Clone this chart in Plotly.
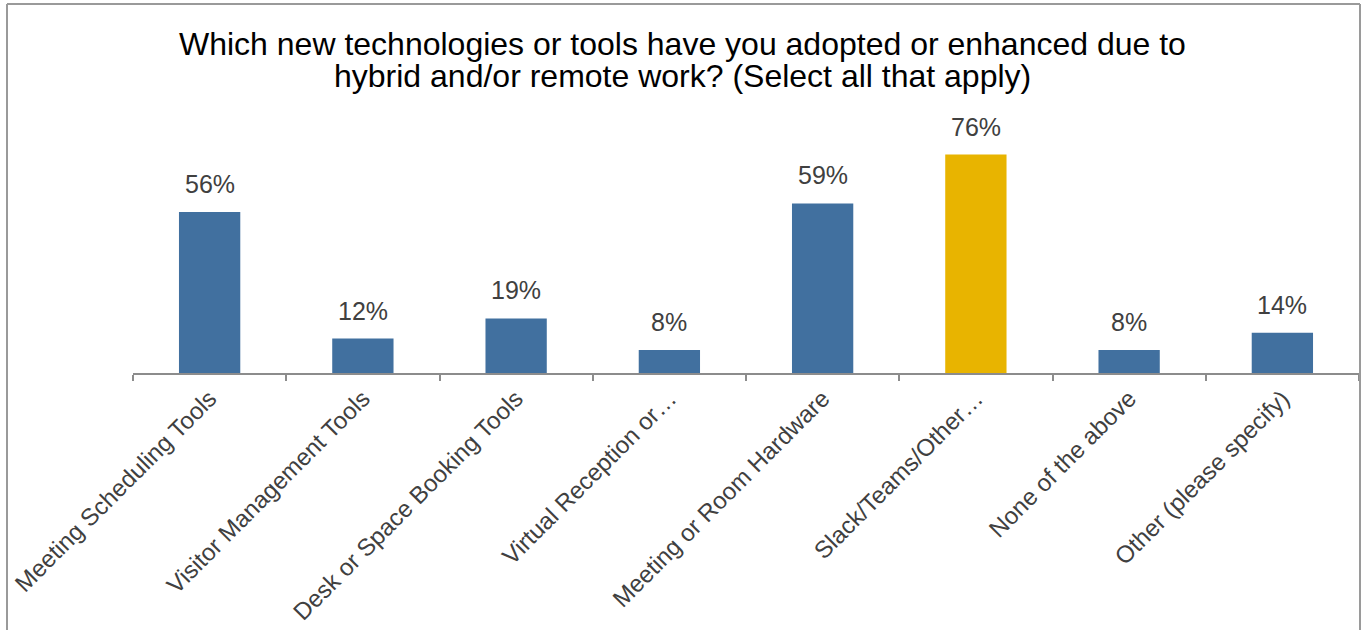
import plotly.graph_objects as go

categories = [
    "Meeting Scheduling Tools",
    "Visitor Management Tools",
    "Desk or Space Booking Tools",
    "Virtual Reception or…",
    "Meeting or Room Hardware",
    "Slack/Teams/Other…",
    "None of the above",
    "Other (please specify)",
]
values = [56, 12, 19, 8, 59, 76, 8, 14]
highlight = "Slack/Teams/Other…"
title_lines = [
    "Which new technologies or tools have you adopted or enhanced due to",
    "hybrid and/or remote work? (Select all that apply)",
]

BLUE = "#41709F"
GOLD = "#E8B400"
TEXT = "#404040"
FONT = "Liberation Sans, Arial, sans-serif"

W, H = 1362, 630
L, R, T, B = 133, 3, 143, 257

colors = [GOLD if c == highlight else BLUE for c in categories]

fig = go.Figure(
    go.Bar(
        x=categories,
        y=values,
        marker=dict(color=colors, line=dict(width=0)),
        hoverinfo="x+y",
    )
)

# value labels above each bar
for c, v in zip(categories, values):
    fig.add_annotation(
        x=c, y=v, text=f"{v}%", showarrow=False,
        yanchor="bottom", yshift=12,
        font=dict(family=FONT, size=25, color=TEXT),
    )

# pixel -> paper conversion for the plot area
pw, ph = W - L - R, H - T - B
def px_x(p):
    return (p - L) / pw
def px_y(p):
    return (H - B - p) / ph

# two-line title with tight line spacing
for line, ymid in zip(title_lines, [44, 76]):
    fig.add_annotation(
        xref="paper", yref="paper", x=px_x(682), y=px_y(ymid),
        xanchor="center", yanchor="middle", showarrow=False,
        text=line, font=dict(family=FONT, size=32, color="black"),
    )

# outer frame of the chart area
frame = dict(type="line", xref="paper", yref="paper",
             line=dict(color="#9A9A9A", width=2))
fig.add_shape(**frame, x0=px_x(7), x1=px_x(7), y0=px_y(4), y1=px_y(640))
fig.add_shape(**frame, x0=px_x(1360), x1=px_x(1360), y0=px_y(4), y1=px_y(640))
fig.add_shape(**frame, x0=px_x(7), x1=px_x(1360), y0=px_y(4), y1=px_y(4))

fig.update_layout(
    width=W, height=H,
    margin=dict(l=L, r=R, t=T, b=B),
    paper_bgcolor="white", plot_bgcolor="white",
    bargap=0.6,
    showlegend=False,
    xaxis=dict(
        showline=True, linecolor="#8C8C8C", linewidth=2,
        ticks="outside", tickson="boundaries", ticklen=6,
        tickcolor="#8C8C8C", tickwidth=2,
        tickangle=-45,
        tickfont=dict(family=FONT, size=24, color=TEXT),
        showgrid=False,
    ),
    yaxis=dict(range=[0, 80], visible=False, showgrid=False),
)

fig.write_html("out.html")
